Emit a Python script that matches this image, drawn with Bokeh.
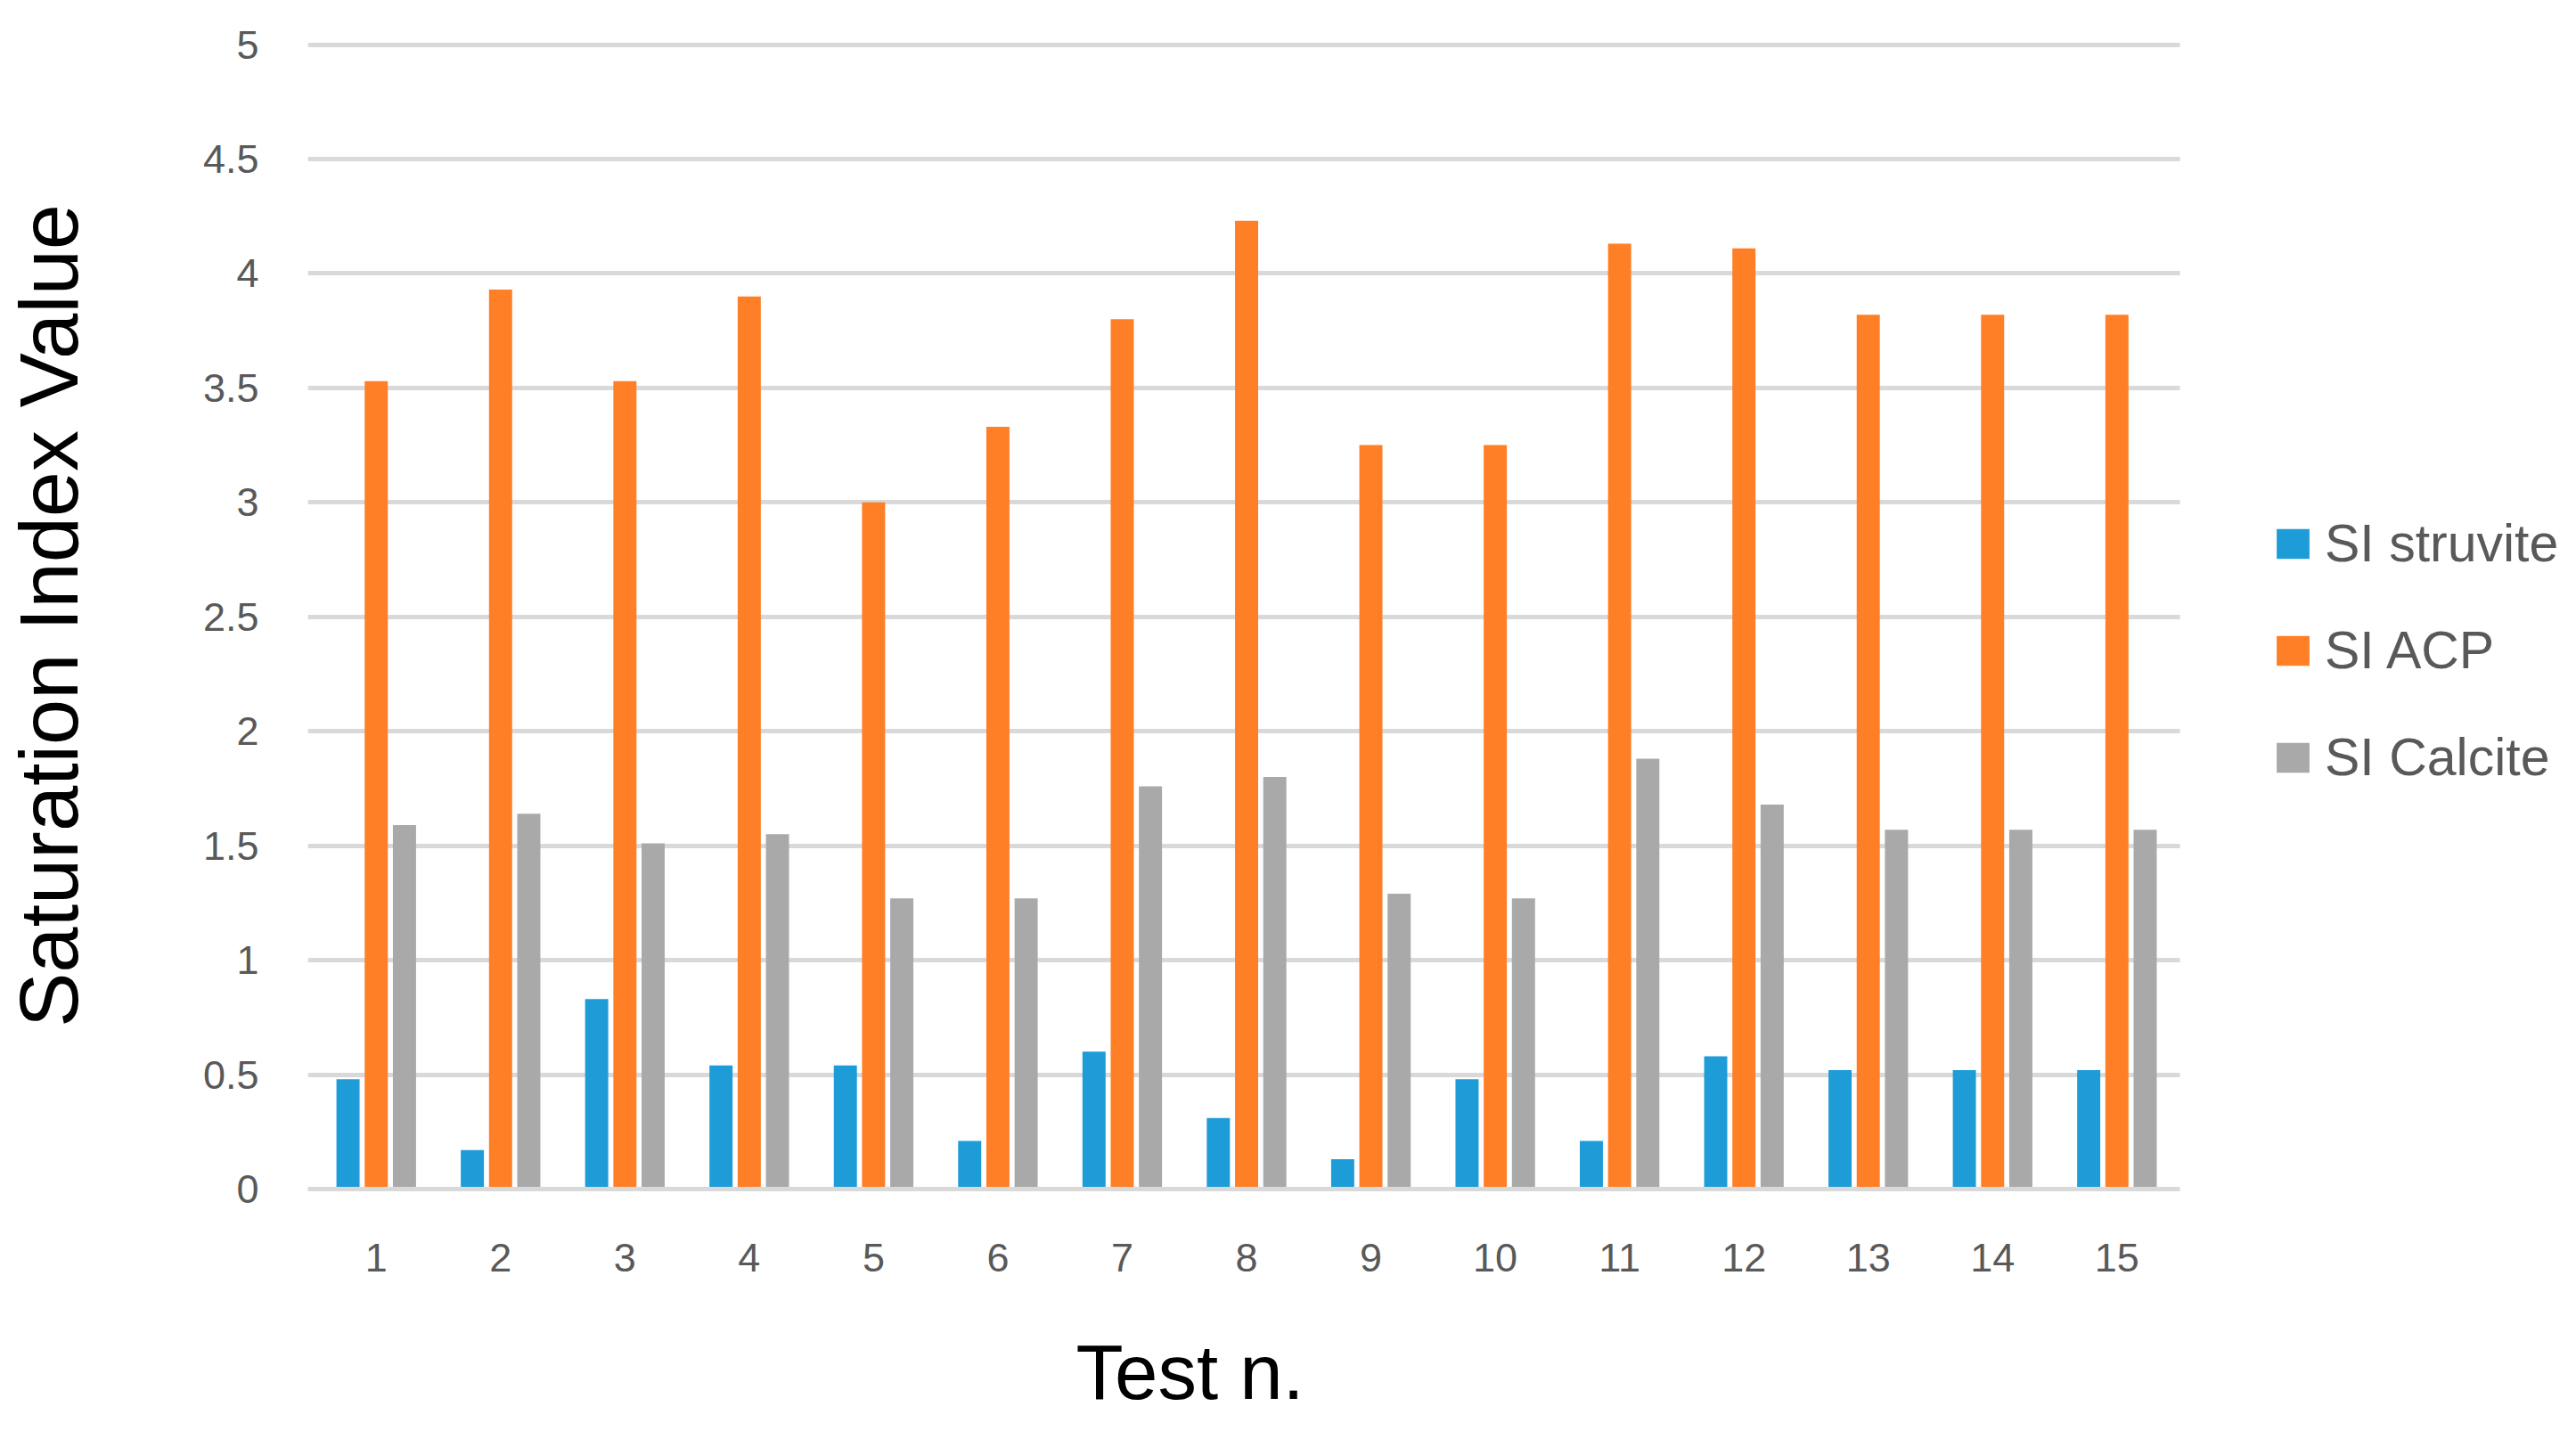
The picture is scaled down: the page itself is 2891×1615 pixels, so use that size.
from bokeh.plotting import figure
from bokeh.models import Range1d, FixedTicker, NumeralTickFormatter, Legend, LegendItem, ColumnDataSource, BoxAnnotation, Title
from bokeh.transform import dodge
from bokeh.embed import file_html
from bokeh.resources import INLINE

# ---- data ----
tests = [1, 2, 3, 4, 5, 6, 7, 8, 9, 10, 11, 12, 13, 14, 15]
si_struvite = [0.48, 0.17, 0.83, 0.54, 0.54, 0.21, 0.60, 0.31, 0.13, 0.48, 0.21, 0.58, 0.52, 0.52, 0.52]
si_acp = [3.53, 3.93, 3.53, 3.90, 3.00, 3.33, 3.80, 4.23, 3.25, 3.25, 4.13, 4.11, 3.82, 3.82, 3.82]
si_calcite = [1.59, 1.64, 1.51, 1.55, 1.27, 1.27, 1.76, 1.80, 1.29, 1.27, 1.88, 1.68, 1.57, 1.57, 1.57]
series_names = ["SI struvite", "SI ACP", "SI Calcite"]
y_ticks = [0, 0.5, 1, 1.5, 2, 2.5, 3, 3.5, 4, 4.5, 5]
x_title = "Test n."
y_title = "Saturation Index Value"

# ---- style / layout ----
colors = ["#1E9CD8", "#FF7F27", "#A9A9A9"]
offsets = [-0.227, 0.0, 0.227]
bar_w = 0.186
FONT = "Liberation Sans"
W, H = 2875, 1599
LEFT, TOP, BOTTOM = 341, 47, 265
CAT_PX = 139.76                 # pixels per test category
X0 = 0.45                       # data value at the frame's left edge
X1 = X0 + (W - LEFT) / CAT_PX   # frame spans to the right edge (legend lives inside)
DATA_END = 15.507               # where the gridlines / axis stop

source = ColumnDataSource(data=dict(test=tests, struvite=si_struvite, acp=si_acp, calcite=si_calcite))

p = figure(x_range=Range1d(X0, X1), y_range=Range1d(0, 5.01),
           width=W, height=H, output_backend="svg", toolbar_location=None,
           min_border_left=LEFT, min_border_right=0, min_border_top=TOP, min_border_bottom=BOTTOM)
p.outline_line_color = None
p.background_fill_color = "white"
p.border_fill_color = "white"

renderers = []
for col, off, c in zip(["struvite", "acp", "calcite"], offsets, colors):
    r = p.vbar(x=dodge("test", off), top=col, width=bar_w, source=source,
               fill_color=c, line_color=None)
    renderers.append(r)

# grid
p.xgrid.grid_line_color = None
p.ygrid.ticker = FixedTicker(ticks=y_ticks)
p.ygrid.grid_line_color = "#D9D9D9"
p.ygrid.grid_line_width = 5
g = p.ygrid[0]
if "cross_bounds" in g.properties():
    g.cross_bounds = (X0, DATA_END)
else:
    p.add_layout(BoxAnnotation(left=DATA_END, fill_color="white", fill_alpha=1.0,
                               line_color=None, level="underlay"))

# y axis
p.yaxis.ticker = FixedTicker(ticks=y_ticks)
p.yaxis.formatter = NumeralTickFormatter(format="0.[0]")
p.yaxis.axis_line_color = None
p.yaxis.major_tick_line_color = None
p.yaxis.minor_tick_line_color = None
p.yaxis.major_tick_out = 0
p.yaxis.minor_tick_out = 0
p.yaxis.major_label_text_font = FONT
p.yaxis.major_label_text_font_size = "45px"
p.yaxis.major_label_text_color = "#595959"
p.yaxis.major_label_standoff = 55
p.yaxis.axis_label = y_title
p.yaxis.axis_label_text_font = FONT
p.yaxis.axis_label_text_font_size = "92px"
p.yaxis.axis_label_text_font_style = "normal"
p.yaxis.axis_label_text_color = "#000000"
p.yaxis.axis_label_standoff = 119

# x axis
p.xaxis.ticker = FixedTicker(ticks=tests)
p.xaxis.bounds = (X0, DATA_END)
p.xaxis.axis_line_color = "#D9D9D9"
p.xaxis.axis_line_width = 5
p.xaxis.major_tick_line_color = None
p.xaxis.minor_tick_line_color = None
p.xaxis.major_tick_out = 0
p.xaxis.minor_tick_out = 0
p.xaxis.major_label_text_font = FONT
p.xaxis.major_label_text_font_size = "45px"
p.xaxis.major_label_text_color = "#595959"
p.xaxis.major_label_standoff = 61

# x-axis title, centred under the test categories (not under the legend area)
xt = Title(text=x_title, align="left", offset=862, vertical_align="bottom",
           text_font=FONT, text_font_size="87px", text_font_style="normal", text_color="#000000")
try:
    xt.standoff = -62
    spacer_standoff = 78
except Exception:
    xt.standoff = 0
    spacer_standoff = 16
# blank spacer between tick labels and the title so the frame keeps its height
p.xaxis.axis_label = " "
p.xaxis.axis_label_text_font_size = "8px"
p.xaxis.axis_label_standoff = spacer_standoff
p.add_layout(xt, "below")

legend = Legend(items=[LegendItem(label=n, renderers=[r]) for n, r in zip(series_names, renderers)],
                location=(2205, 450), orientation="vertical")
legend.glyph_width = 46
legend.glyph_height = 42
legend.label_standoff = 13
legend.label_text_font = FONT
legend.label_text_font_size = "59px"
legend.label_text_color = "#595959"
legend.spacing = 52
legend.padding = 0
legend.margin = 0
legend.border_line_color = None
legend.background_fill_alpha = 0
p.add_layout(legend, "center")

open("out.html", "w").write(file_html(p, INLINE))
